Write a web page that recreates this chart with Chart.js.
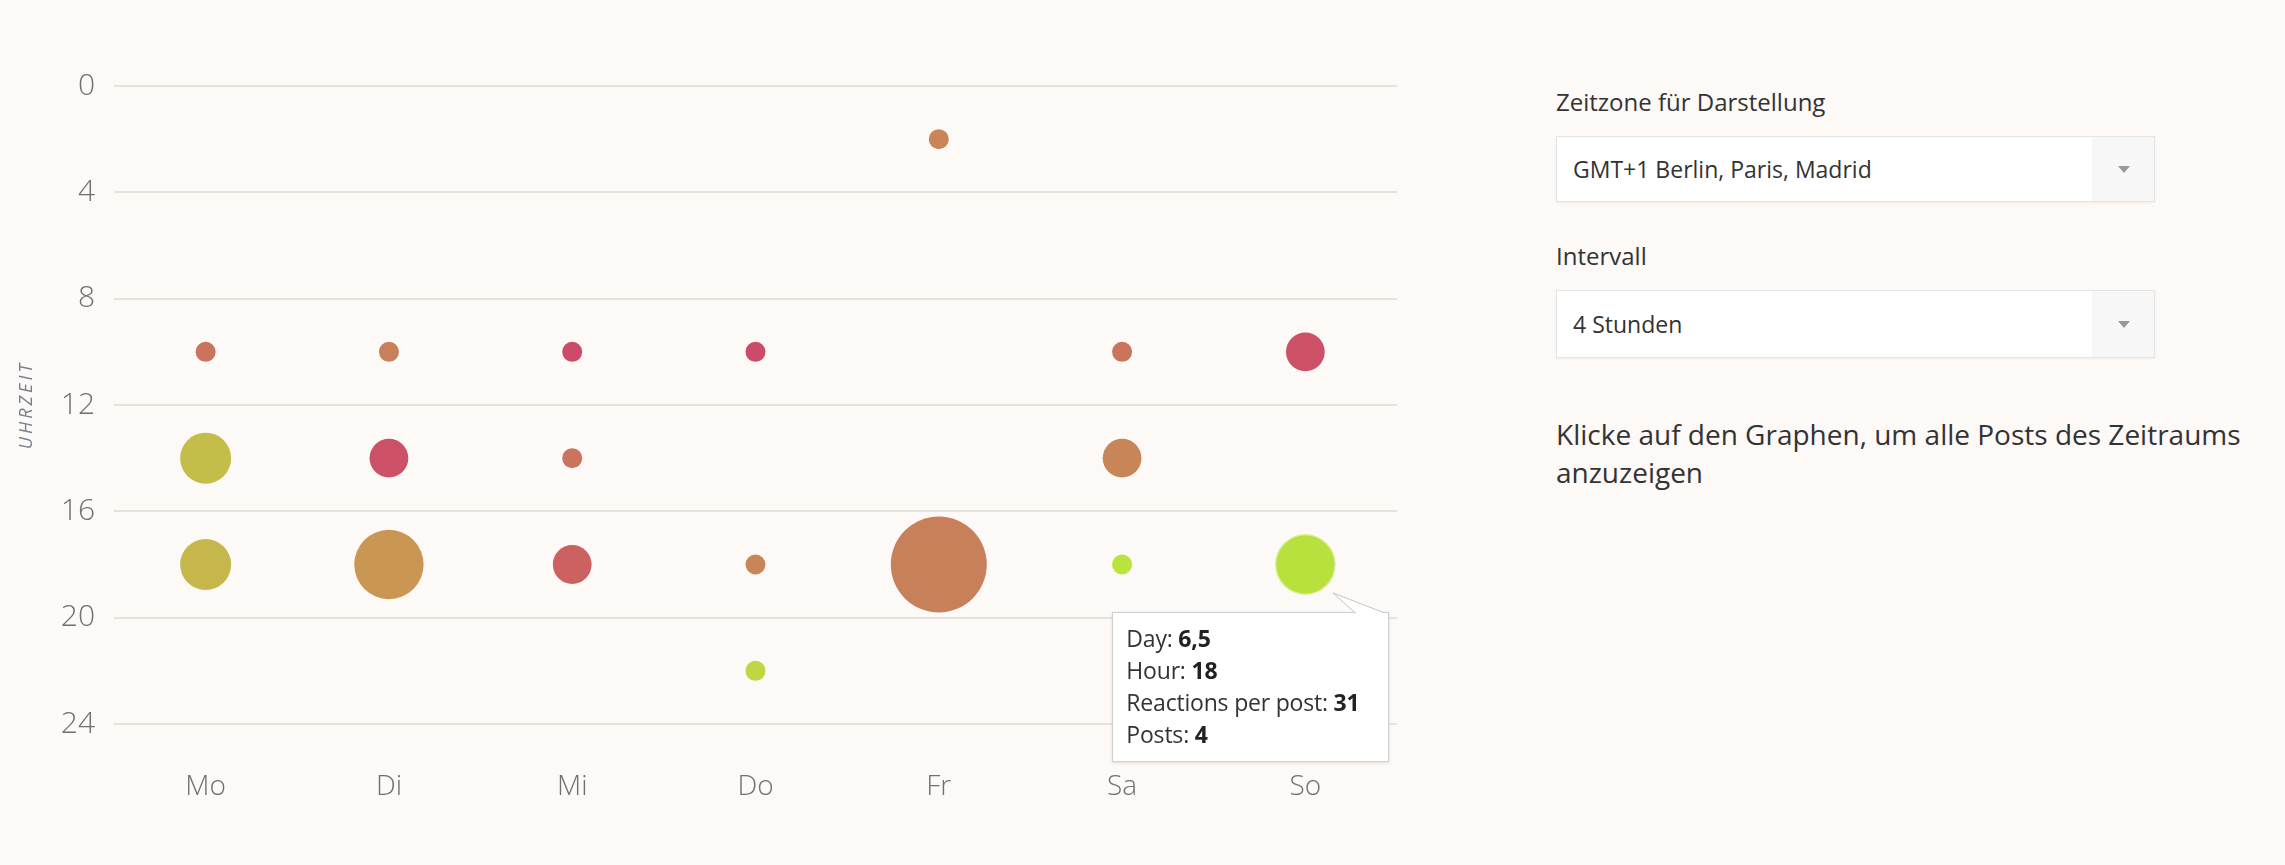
<!DOCTYPE html>
<html lang="de">
<head>
<meta charset="utf-8">
<title>Posts nach Uhrzeit</title>
<script src="https://cdn.jsdelivr.net/npm/chart.js@4.4.1/dist/chart.umd.min.js"></script>
<style>
  body { margin: 0; background: #fcf9f7; font-family: 'Open Sans', sans-serif; width: 2285px; height: 865px; overflow: hidden; position: relative; }
  #chartBox { position: absolute; left: 0; top: 0; width: 1445px; height: 865px; }
  .lbl { position: absolute; left: 1556px; font-size: 24px; line-height: 32px; color: #333; }
  .sel { position: absolute; left: 1556px; width: 597px; background: #fff; border: 1px solid #e4e4e4; box-shadow: 0 1px 2px rgba(0,0,0,0.06); font-size: 23px; color: #333; }
  .sel span { position: absolute; left: 16px; top: 50%; transform: translateY(-50%); }
  .sel .arr { position: absolute; right: 0; top: 0; bottom: 0; width: 62px; background: #f7f7f7; }
  .sel .arr:after { content: ''; position: absolute; left: 26px; top: 50%; margin-top: -3px; border-left: 6px solid transparent; border-right: 6px solid transparent; border-top: 7px solid #999; }
  .note { position: absolute; left: 1556px; top: 415px; width: 720px; font-size: 28px; line-height: 38px; color: #333; }
  #tip { position: absolute; display: none; width: 275px; height: 148px; background: #fff; border: 1px solid #cfcfcf; box-shadow: 0 1px 3px rgba(0,0,0,0.12); font-size: 23px; line-height: 32px; color: #333; box-sizing: content-box; }
  #tip .txt { position: absolute; left: 13px; top: 9px; white-space: nowrap; letter-spacing: -0.2px; }
  #tip b { font-weight: 700; color: #222; }
  #tip svg { position: absolute; left: 0; top: -24px; overflow: visible; }
</style>
</head>
<body>
<div id="chartBox">
  <canvas id="bubbleChart"></canvas>
  <div id="tip"></div>
</div>

<div class="lbl" style="top:86px">Zeitzone für Darstellung</div>
<div class="sel" style="top:136px;height:64px"><span>GMT+1 Berlin, Paris, Madrid</span><div class="arr"></div></div>
<div class="lbl" style="top:240px">Intervall</div>
<div class="sel" style="top:290px;height:66px"><span>4 Stunden</span><div class="arr"></div></div>
<div class="note">Klicke auf den Graphen, um alle Posts des Zeitraums<br>anzuzeigen</div>

<script>
const days = ['Mo', 'Di', 'Mi', 'Do', 'Fr', 'Sa', 'So'];
const dayTicks = [0.5, 1.5, 2.5, 3.5, 4.5, 5.5, 6.5];
const hourTicks = [0, 4, 8, 12, 16, 20, 24];
const yTitle = 'UHRZEIT';

// one entry per bubble: day position, hour (middle of the 4h interval), posts, reactions per post
const pointDay = [0.5, 0.5, 0.5, 1.5, 1.5, 1.5, 2.5, 2.5, 2.5, 3.5, 3.5, 3.5, 4.5, 4.5, 5.5, 5.5, 5.5, 6.5, 6.5];
const pointHour = [10, 14, 18, 10, 14, 18, 10, 14, 18, 10, 18, 22, 2, 18, 10, 14, 18, 10, 18];
const posts = [1, 3, 3, 1, 2, 5, 1, 1, 2, 1, 1, 1, 1, 9, 1, 2, 1, 2, 4];
const reactions = [9, 21, 20, 11, 3, 15, 2, 9, 6, 2, 12, 28, 12, 11, 9, 12, 32, 3, 31];

// bubble size by area, colour from low (red) to high (green) reactions
const minR = 10, maxR = 48;
const colorStops = [
    [0.00, [204, 74, 106]],
    [0.15, [204, 100, 96]],
    [0.30, [200, 128, 90]],
    [0.45, [201, 154, 82]],
    [0.65, [196, 192, 72]],
    [1.00, [184, 228, 60]]
];

const pMin = Math.min(...posts), pMax = Math.max(...posts);
const rMin = Math.min(...reactions), rMax = Math.max(...reactions);

function radiusFor(p) {
    const t = (p - pMin) / (pMax - pMin);
    return Math.sqrt(minR * minR + t * (maxR * maxR - minR * minR));
}

function colorFor(v) {
    const t = (v - rMin) / (rMax - rMin);
    for (let i = 1; i < colorStops.length; i++) {
        const [t1, c1] = colorStops[i];
        const [t0, c0] = colorStops[i - 1];
        if (t <= t1) {
            const f = (t - t0) / (t1 - t0);
            const c = c0.map((a, k) => Math.round(a + (c1[k] - a) * f));
            return `rgb(${c[0]}, ${c[1]}, ${c[2]})`;
        }
    }
    return 'rgb(184, 228, 60)';
}

const fmt = v => String(v).replace('.', ',');

function externalTip(context) {
    const tip = document.getElementById('tip');
    const model = context.tooltip;
    if (model.opacity === 0 || !model.dataPoints || !model.dataPoints.length) {
        tip.style.display = 'none';
        return;
    }
    const i = model.dataPoints[0].dataIndex;
    tip.innerHTML =
        '<svg width="300" height="30"><polygon points="220,4 243,24.5 273,24.5" fill="#fff" stroke="#c4c4c4" stroke-width="1"/>' +
        '<line x1="243" y1="25" x2="273" y2="25" stroke="#fff" stroke-width="2"/></svg>' +
        '<div class="txt">Day: <b>' + fmt(pointDay[i]) + '</b><br>Hour: <b>' + pointHour[i] +
        '</b><br>Reactions per post: <b>' + reactions[i] + '</b><br>Posts: <b>' + posts[i] + '</b></div>';
    tip.style.display = 'block';
    tip.style.left = (model.caretX - 193) + 'px';
    tip.style.top = (model.caretY + 47) + 'px';
}

// spaced-out, rotated title for the hour axis
const yTitlePlugin = {
    id: 'yTitle',
    afterDraw(chart) {
        const c = chart.ctx;
        const area = chart.chartArea;
        c.save();
        c.translate(27, (area.top + area.bottom) / 2);
        c.rotate(-Math.PI / 2);
        c.font = 'italic 18px "Open Sans"';
        c.letterSpacing = '3px';
        c.fillStyle = '#76808c';
        c.textAlign = 'center';
        c.textBaseline = 'middle';
        c.fillText(yTitle, 0, 0);
        c.restore();
    }
};

const ctx = document.getElementById('bubbleChart').getContext('2d');
const chart = new Chart(ctx, {
    type: 'bubble',
    data: {
        datasets: [{
            label: 'Posts',
            data: pointDay.map((x, i) => ({ x: x, y: pointHour[i], r: radiusFor(posts[i]) })),
            backgroundColor: c => colorFor(reactions[c.dataIndex]),
            hoverBackgroundColor: c => colorFor(reactions[c.dataIndex]),
            borderWidth: 0,
            hoverBorderWidth: 3,
            hoverBorderColor: 'rgba(255, 255, 255, 0.45)',
            hoverRadius: 0
        }]
    },
    plugins: [yTitlePlugin],
    options: {
        responsive: true,
        maintainAspectRatio: false,
        animation: false,
        events: [],
        layout: {
            padding: { top: 86, right: 25, bottom: 0, left: 0 }
        },
        plugins: {
            legend: { display: false },
            tooltip: { enabled: false, external: externalTip }
        },
        scales: {
            x: {
                type: 'linear',
                min: 0,
                max: 7,
                afterBuildTicks: s => { s.ticks = dayTicks.map(v => ({ value: v })); },
                afterFit: s => { s.height = 141; },
                grid: { display: false, drawTicks: false },
                border: { display: false },
                ticks: {
                    padding: 46,
                    color: '#707070',
                    font: { family: 'Open Sans', size: 28, weight: 300 },
                    callback: v => days[Math.floor(v)]
                }
            },
            y: {
                reverse: true,
                min: 0,
                max: 24,
                afterBuildTicks: s => { s.ticks = hourTicks.map(v => ({ value: v })); },
                afterFit: s => { s.width = 114; },
                grid: { color: '#e6e2de', lineWidth: 2, drawTicks: false },
                border: { display: false },
                ticks: {
                    padding: 19,
                    color: '#707070',
                    font: { family: 'Open Sans', size: 30, weight: 300 }
                }
            }
        }
    }
});

// show the tooltip for the Sunday 18h bubble, as in the picture
const focus = [{ datasetIndex: 0, index: 18 }];
const el = chart.getDatasetMeta(0).data[18];
chart.setActiveElements(focus);
chart.tooltip.setActiveElements(focus, { x: el.x, y: el.y });
chart.update();
</script>
</body>
</html>
